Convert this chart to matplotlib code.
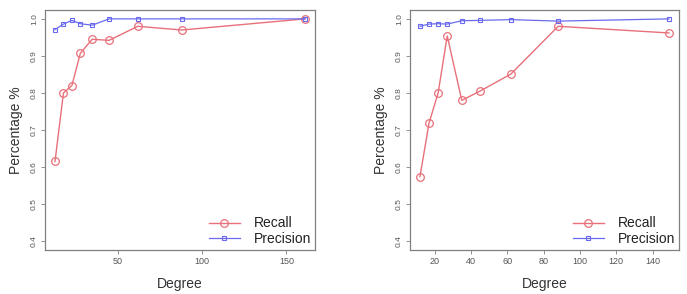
import numpy as np
import matplotlib.pyplot as plt

plt.rcParams['font.family'] = ['Liberation Sans', 'DejaVu Sans']

# data
deg_left = [13, 18, 23, 28, 35, 45, 62, 88, 161]
recall_left = [0.615, 0.80, 0.82, 0.907, 0.945, 0.942, 0.98, 0.97, 1.0]
prec_left = [0.971, 0.986, 0.996, 0.987, 0.983, 1.0, 1.0, 1.0, 1.0]

deg_right = [12, 17, 22, 27, 35, 45, 62, 88, 149]
recall_right = [0.574, 0.719, 0.80, 0.954, 0.78, 0.805, 0.851, 0.98, 0.962]
prec_right = [0.980, 0.986, 0.987, 0.986, 0.995, 0.996, 0.998, 0.994, 1.0]

yticks = [0.4, 0.5, 0.6, 0.7, 0.8, 0.9, 1.0]
xticks_left = [50, 100, 150]
xticks_right = [20, 40, 60, 80, 100, 120, 140]

red = '#e8707a'
blue = '#6a6af0'
frame = '#808080'

fig = plt.figure(figsize=(6.87, 2.94), dpi=100)
W, H = 687.0, 294.0
ax1 = fig.add_axes([45 / W, 1 - 250 / H, 270 / W, 240 / H])
ax2 = fig.add_axes([410 / W, 1 - 250 / H, 269 / W, 240 / H])


def draw(ax, x, rec, prec, xt):
    ax.plot(x, rec, color=red, lw=1.0, marker='o', ms=5.5, mfc='none',
            mec=red, mew=0.9, label='Recall')
    ax.plot(x, prec, color=blue, lw=0.9, marker='s', ms=3.5, mfc='none',
            mec=blue, mew=0.8, label='Precision')
    span = max(x) - min(x)
    ax.set_xlim(min(x) - 0.04 * span, max(x) + 0.04 * span)
    ax.set_ylim(0.376, 1.024)
    ax.set_xticks(xt)
    ax.set_yticks(yticks)
    ax.set_yticklabels([f"{v:.1f}" for v in yticks], rotation=90,
                       va='center', fontsize=6, color='#555555')
    ax.set_xticklabels([str(v) for v in xt], fontsize=6.5, color='#555555')
    ax.tick_params(length=3, width=0.6, color=frame, pad=2)
    for s in ax.spines.values():
        s.set_color(frame)
        s.set_linewidth(0.9)
    ax.set_xlabel('Degree', fontsize=10, color='#333333', labelpad=8)
    ax.set_ylabel('Percentage %', fontsize=10, color='#333333', labelpad=6)
    ax.legend(loc='lower right', frameon=False, fontsize=10,
              handlelength=2.2, handletextpad=1.0, borderaxespad=0.0,
              borderpad=0.3, labelspacing=0.1, labelcolor='#222222')


draw(ax1, deg_left, recall_left, prec_left, xticks_left)
draw(ax2, deg_right, recall_right, prec_right, xticks_right)

fig.savefig('out.png', dpi=100)
